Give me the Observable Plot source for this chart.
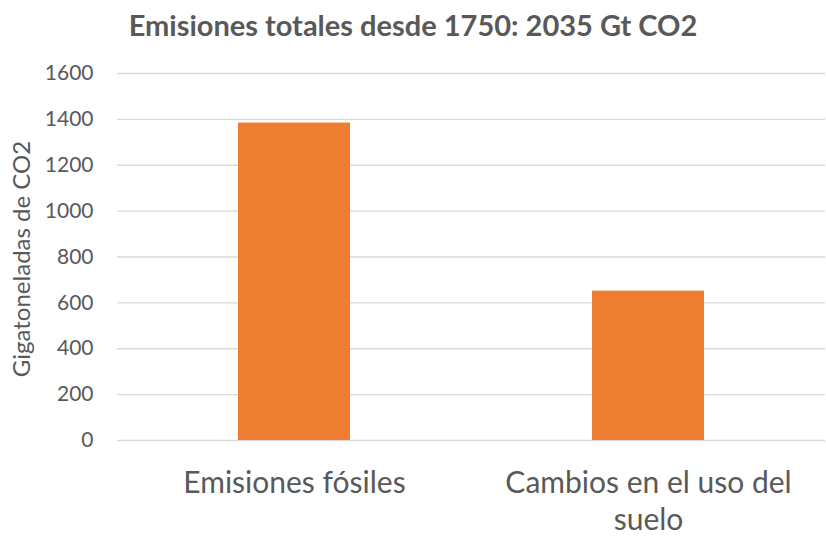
<!DOCTYPE html>
<html>
<head>
<meta charset="utf-8">
<script src="https://cdn.jsdelivr.net/npm/d3@7"></script>
<script src="https://cdn.jsdelivr.net/npm/@observablehq/plot@0.6"></script>
<style>
  html, body { margin: 0; padding: 0; background: #fff; }
  #wrap { width: 826px; height: 536px; overflow: hidden; }
  #title { height: 56px; line-height: 48px; text-align: center; font-family: Lato, sans-serif; font-weight: bold; font-size: 29px; color: #595959; padding-top: 1px; box-sizing: border-box; }
</style>
</head>
<body>
<div id="wrap">
  <div id="title">Emisiones totales desde 1750: 2035 Gt CO2</div>
  <div id="chart"></div>
</div>
<script>
const categories = ["Emisiones fósiles", "Cambios en el uso del suelo"];
const values = [1384, 651];
const xTickLabels = ["Emisiones fósiles", "Cambios en el uso del\nsuelo"];
const yTicks = [0, 200, 400, 600, 800, 1000, 1200, 1400, 1600];
const yLabel = "Gigatoneladas de CO2";

const data = categories.map((c, i) => ({category: c, value: values[i]}));

const chart = Plot.plot({
  width: 826,
  height: 480,
  marginTop: 17,
  marginBottom: 96,
  marginLeft: 117,
  marginRight: 1,
  style: {fontFamily: "Lato, sans-serif", color: "#595959", background: "#fff"},
  x: {domain: categories, padding: 0},
  y: {domain: [0, 1600]},
  marks: [
    Plot.ruleY(yTicks, {stroke: "#d9d9d9", strokeWidth: 1.3}),
    Plot.barY(data, {x: "category", y: "value", fill: "#ED7D31", insetLeft: 121, insetRight: 121}),
    Plot.axisY({ticks: yTicks, tickSize: 0, tickPadding: 24, fontSize: 21, tickFormat: d3.format("d"), label: null}),
    Plot.text([yLabel], {frameAnchor: "left", textAnchor: "middle", rotate: -90, dx: -95, dy: 2, fontSize: 24, fill: "#595959"}),
    Plot.axisX({tickSize: 0, tickPadding: 26, fontSize: 30, lineHeight: 1.23, label: null, tickFormat: (d) => xTickLabels[categories.indexOf(d)]})
  ]
});
document.getElementById("chart").appendChild(chart);
</script>
</body>
</html>
